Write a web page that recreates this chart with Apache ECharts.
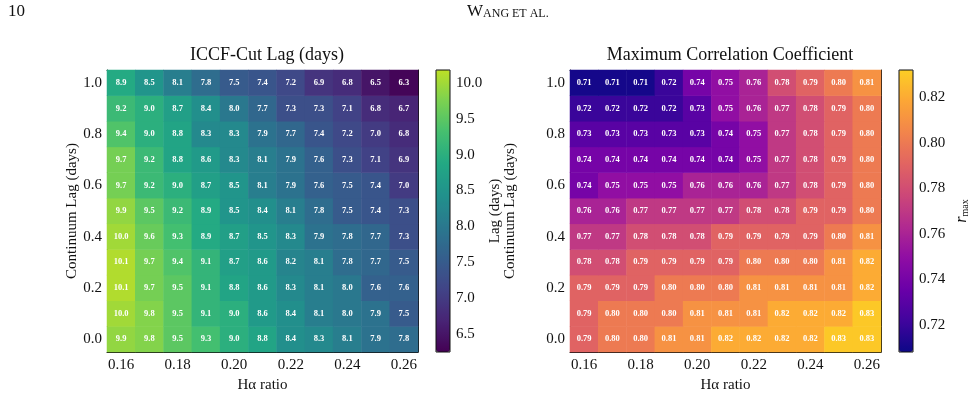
<!DOCTYPE html>
<html lang="en">
    <head>
        <title>ICCF lag grid</title>
        <meta charset="utf-8">
        <script src="https://cdn.jsdelivr.net/npm/echarts@6/dist/echarts.min.js"></script>
    </head>

    <style>
        html, body {
            margin: 0;
            background: #fff;
        }

        #main {
            width: 973px;
            height: 417px;
        }
    </style>

    <body>
        <div id="main"></div>

        <script>
            const haRatio = ['0.16', '0.17', '0.18', '0.19', '0.20', '0.21', '0.22', '0.23', '0.24', '0.25', '0.26'];
            const contLag = ['0.0', '0.1', '0.2', '0.3', '0.4', '0.5', '0.6', '0.7', '0.8', '0.9', '1.0'];

            // one row per continuum lag, from 0.0 (bottom) up to 1.0 (top)
            const lagDays = [
                [9.9, 9.8, 9.5, 9.3, 9.0, 8.8, 8.4, 8.3, 8.1, 7.9, 7.8],
                [10.0, 9.8, 9.5, 9.1, 9.0, 8.6, 8.4, 8.1, 8.0, 7.9, 7.5],
                [10.1, 9.7, 9.5, 9.1, 8.8, 8.6, 8.3, 8.1, 8.0, 7.6, 7.6],
                [10.1, 9.7, 9.4, 9.1, 8.7, 8.6, 8.2, 8.1, 7.8, 7.7, 7.5],
                [10.0, 9.6, 9.3, 8.9, 8.7, 8.5, 8.3, 7.9, 7.8, 7.7, 7.3],
                [9.9, 9.5, 9.2, 8.9, 8.5, 8.4, 8.1, 7.8, 7.5, 7.4, 7.3],
                [9.7, 9.2, 9.0, 8.7, 8.5, 8.1, 7.9, 7.6, 7.5, 7.4, 7.0],
                [9.7, 9.2, 8.8, 8.6, 8.3, 8.1, 7.9, 7.6, 7.3, 7.1, 6.9],
                [9.4, 9.0, 8.8, 8.3, 8.3, 7.9, 7.7, 7.4, 7.2, 7.0, 6.8],
                [9.2, 9.0, 8.7, 8.4, 8.0, 7.7, 7.3, 7.3, 7.1, 6.8, 6.7],
                [8.9, 8.5, 8.1, 7.8, 7.5, 7.4, 7.2, 6.9, 6.8, 6.5, 6.3]
            ];

            const rMax = [
                [0.79, 0.80, 0.80, 0.81, 0.81, 0.82, 0.82, 0.82, 0.82, 0.83, 0.83],
                [0.79, 0.80, 0.80, 0.80, 0.81, 0.81, 0.81, 0.82, 0.82, 0.82, 0.83],
                [0.79, 0.79, 0.79, 0.80, 0.80, 0.80, 0.81, 0.81, 0.81, 0.81, 0.82],
                [0.78, 0.78, 0.79, 0.79, 0.79, 0.79, 0.80, 0.80, 0.80, 0.81, 0.82],
                [0.77, 0.77, 0.78, 0.78, 0.78, 0.79, 0.79, 0.79, 0.79, 0.80, 0.81],
                [0.76, 0.76, 0.77, 0.77, 0.77, 0.77, 0.78, 0.78, 0.79, 0.79, 0.80],
                [0.74, 0.75, 0.75, 0.75, 0.76, 0.76, 0.76, 0.77, 0.78, 0.79, 0.80],
                [0.74, 0.74, 0.74, 0.74, 0.74, 0.74, 0.75, 0.77, 0.78, 0.79, 0.80],
                [0.73, 0.73, 0.73, 0.73, 0.73, 0.74, 0.75, 0.77, 0.78, 0.79, 0.80],
                [0.72, 0.72, 0.72, 0.72, 0.73, 0.75, 0.76, 0.77, 0.78, 0.79, 0.80],
                [0.71, 0.71, 0.71, 0.72, 0.74, 0.75, 0.76, 0.78, 0.79, 0.80, 0.81]
            ];

            const lagTicks = [6.5, 7.0, 7.5, 8.0, 8.5, 9.0, 9.5, 10.0];
            const rTicks = [0.72, 0.74, 0.76, 0.78, 0.80, 0.82];

            // viridis / plasma, cut at 0.9 like the original colorbars
            const viridis = ['#440154', '#482475', '#414487', '#355f8d', '#2a788e', '#21918c', '#22a884', '#44bf70', '#7ad151', '#bddf26'];
            const plasma = ['#0d0887', '#41049d', '#6a00a8', '#8f0da4', '#b12a90', '#cc4778', '#e16462', '#f2844b', '#fca636', '#fcce25'];

            const serif = '"Liberation Serif", "DejaVu Serif", serif';
            const ink = '#111';

            const toCells = rows => {
                const out = [];
                rows.forEach((row, j) => row.forEach((v, i) => out.push([i, j, v])));
                return out;
            };

            const frame = { show: true, lineStyle: { color: ink, width: 1 } };
            const inTicks = { show: true, inside: true, length: 4, interval: 1, alignWithLabel: true, lineStyle: { color: ink } };

            const catX = (grid, pos, labels) => ({
                type: 'category', gridIndex: grid, position: pos, data: haRatio,
                axisLine: frame, axisTick: inTicks, splitLine: { show: false },
                axisLabel: { show: labels, interval: 1, margin: 6, fontSize: 15, color: ink, fontFamily: serif },
                name: labels ? 'Hα ratio' : '', nameLocation: 'middle', nameGap: 22,
                nameTextStyle: { fontSize: 15, color: ink, fontFamily: serif }
            });

            const catY = (grid, pos, labels, gap) => ({
                type: 'category', gridIndex: grid, position: pos, data: contLag,
                axisLine: frame, axisTick: inTicks, splitLine: { show: false },
                axisLabel: { show: labels, interval: 1, margin: 5, fontSize: 15, color: ink, fontFamily: serif },
                name: labels ? 'Continuum Lag (days)' : '', nameLocation: 'middle', nameGap: gap,
                nameTextStyle: { fontSize: 15, color: ink, fontFamily: serif }
            });

            const barAxis = (grid, min, max, ticks, digits, name, gap, rich) => ({
                type: 'value', gridIndex: grid, position: 'right', min: min, max: max,
                axisLine: { show: false }, splitLine: { show: false },
                axisTick: { show: true, inside: false, length: 4, customValues: ticks, lineStyle: { color: ink } },
                axisLabel: {
                    customValues: ticks, margin: 6, fontSize: 15, color: ink, fontFamily: serif,
                    formatter: v => v.toFixed(digits)
                },
                name: name, nameLocation: 'middle', nameGap: gap,
                nameTextStyle: { fontSize: 15, color: ink, fontFamily: serif, rich: rich }
            });

            const cellLabel = digits => ({
                show: true, color: '#fff', fontSize: 8.5, fontWeight: 'bold', fontFamily: serif,
                formatter: p => p.value[2].toFixed(digits)
            });

            const chart = echarts.init(document.getElementById('main'));

            const option = {
                backgroundColor: '#fff',
                animation: false,
                title: [
                    { text: 'ICCF-Cut Lag (days)', left: 262, top: 41, textAlign: 'center',
                      textStyle: { fontSize: 18, fontWeight: 'normal', color: ink, fontFamily: serif } },
                    { text: 'Maximum Correlation Coefficient', left: 725, top: 41, textAlign: 'center',
                      textStyle: { fontSize: 18, fontWeight: 'normal', color: ink, fontFamily: serif } }
                ],
                graphic: [
                    { type: 'text', left: 8, top: 3, style: { text: '10', font: '17px ' + serif, fill: ink } },
                    { type: 'text', left: 467, top: 3, style: {
                        text: '{a|W}{b|ANG ET AL.}', fill: ink,
                        rich: {
                            a: { fontSize: 17, fontFamily: serif, verticalAlign: 'bottom' },
                            b: { fontSize: 12, fontFamily: serif, verticalAlign: 'bottom' }
                        }
                    } }
                ],
                grid: [
                    { left: 107, top: 70, width: 311, height: 282 },
                    { left: 570, top: 70, width: 311, height: 282 },
                    { left: 436, top: 70, width: 14, height: 282, show: true, z: 10, borderColor: ink, borderWidth: 1, backgroundColor: 'transparent' },
                    { left: 899, top: 70, width: 14, height: 282, show: true, z: 10, borderColor: ink, borderWidth: 1, backgroundColor: 'transparent' }
                ],
                xAxis: [
                    catX(0, 'bottom', true), catX(0, 'top', false),
                    catX(1, 'bottom', true), catX(1, 'top', false),
                    { type: 'value', gridIndex: 2, show: false },
                    { type: 'value', gridIndex: 3, show: false }
                ],
                yAxis: [
                    catY(0, 'left', true, 27), catY(0, 'right', false, 0),
                    catY(1, 'left', true, 52), catY(1, 'right', false, 0),
                    barAxis(2, 6.25, 10.18, lagTicks, 1, 'Lag (days)', 38),
                    barAxis(3, 0.708, 0.832, rTicks, 2, '{i|r}{s|max}', 40, {
                        i: { fontSize: 16, fontStyle: 'italic', fontFamily: serif },
                        s: { fontSize: 10, fontFamily: serif, padding: [7, 0, 0, 0] }
                    })
                ],
                visualMap: [
                    { type: 'continuous', seriesIndex: 0, min: 6.25, max: 10.18, calculable: false,
                      inRange: { color: viridis }, left: 436, top: 70, itemWidth: 14, itemHeight: 282,
                      padding: 0, hoverLink: false },
                    { type: 'continuous', seriesIndex: 1, min: 0.708, max: 0.832, calculable: false,
                      inRange: { color: plasma }, left: 899, top: 70, itemWidth: 14, itemHeight: 282,
                      padding: 0, hoverLink: false }
                ],
                series: [
                    { type: 'heatmap', xAxisIndex: 0, yAxisIndex: 0, data: toCells(lagDays),
                      label: cellLabel(1), emphasis: { disabled: true } },
                    { type: 'heatmap', xAxisIndex: 2, yAxisIndex: 2, data: toCells(rMax),
                      label: cellLabel(2), emphasis: { disabled: true } }
                ]
            };

            chart.setOption(option);
        </script>
    </body>
</html>
